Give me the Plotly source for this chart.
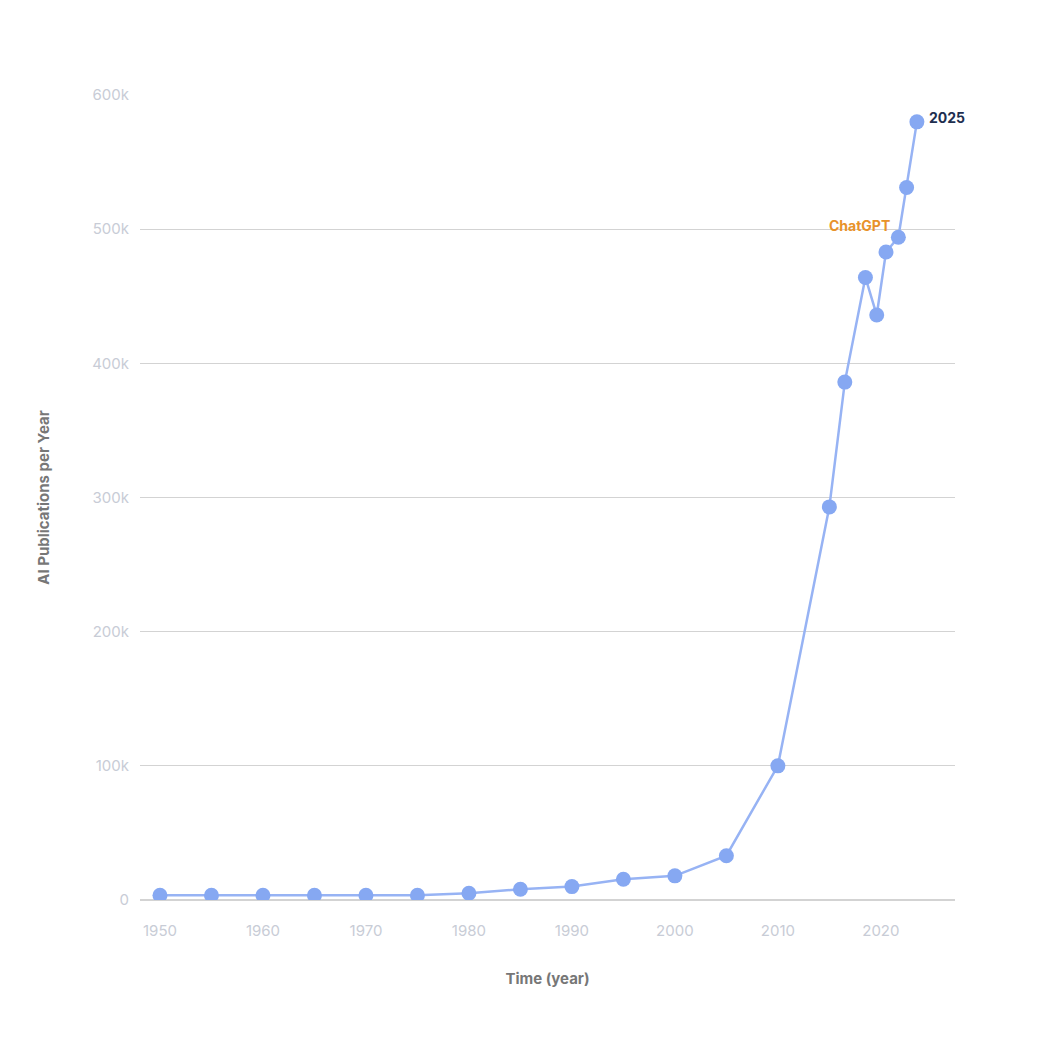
import plotly.graph_objects as go

years = [1950,1955,1960,1965,1970,1975,1980,1985,1990,1995,2000,2005,2010,2015,2016.5,2018.5,2019.6,2020.5,2021.7,2022.5,2023.5]
pubs = [3500,3500,3500,3500,3500,3500,5000,8000,10000,15500,18000,33000,100000,293000,386000,464000,436000,483000,494000,531000,580000]
x_ticks = [1950,1960,1970,1980,1990,2000,2010,2020]
y_ticks = [0,100000,200000,300000,400000,500000,600000]
y_labels = ["0","100k","200k","300k","400k","500k","600k"]

fig = go.Figure(go.Scatter(x=years, y=pubs, mode="lines+markers",
    line=dict(color="#97b3f4", width=2.5),
    marker=dict(color="#86a8f2", size=15), hoverinfo="skip"))

fig.add_annotation(x=years[-1], y=pubs[-1], text="<b>2025</b>", showarrow=False,
    xanchor="left", xshift=10, yshift=4, font=dict(color="#1e2f4f", size=14))
fig.add_annotation(x=years[-3], y=pubs[-3], text="<b>ChatGPT</b>", showarrow=False,
    xanchor="right", xshift=-6, yshift=12, font=dict(color="#e8922a", size=14))

fig.update_layout(width=1037, height=1037, plot_bgcolor="white", paper_bgcolor="white",
    font=dict(family="Inter", size=15, color="#c8ccd6"),
    margin=dict(l=132, r=90, t=87, b=145), showlegend=False,
    xaxis=dict(range=[1948.06, 2027.2], tickvals=x_ticks, showgrid=False, zeroline=False,
        ticks="", ticklabelstandoff=20,
        title=dict(text="<b>Time (year)</b>", font=dict(color="#777", size=15), standoff=34)),
    yaxis=dict(range=[0, 600000], tickvals=y_ticks, ticktext=y_labels, showgrid=True,
        gridcolor="#d3d3d3", gridwidth=1, zeroline=True, zerolinecolor="#d3d3d3",
        ticks="", ticklabelstandoff=10,
        title=dict(text="<b>AI Publications per Year</b>", font=dict(color="#777", size=15), standoff=38)))

fig.write_html("out.html")
